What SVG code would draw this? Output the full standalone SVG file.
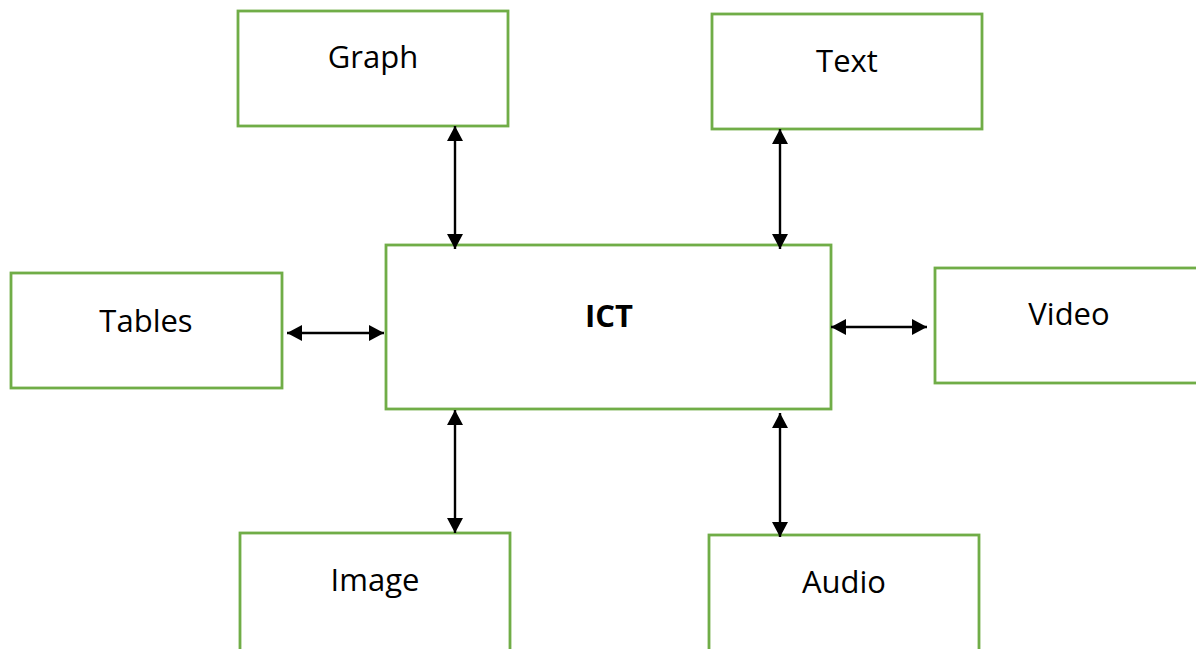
<svg xmlns="http://www.w3.org/2000/svg" width="1196" height="649" viewBox="0 0 1196 649">
<style>
.box{fill:#fff;stroke:#70AD47;stroke-width:2.8}
.lbl{font-family:"Open Sans","Liberation Sans",Arial,sans-serif;font-size:31px;fill:#000;text-anchor:middle}
.bold{font-weight:bold}
.conn{stroke:#000;stroke-width:2.4;fill:none;marker-start:url(#ah);marker-end:url(#ah)}
</style>
<defs>
<marker id="ah" markerUnits="userSpaceOnUse" markerWidth="16" markerHeight="16" refX="15" refY="8" orient="auto-start-reverse" viewBox="0 0 16 16">
<path d="M0,0 L15,8 L0,16 Z" fill="#000"/>
</marker>
</defs>
<rect width="1196" height="649" fill="#fff"/>
<g id="node-graph"><rect class="box" x="238" y="11" width="270" height="115"/><text class="lbl" x="373" y="68">Graph</text></g>
<g id="node-text"><rect class="box" x="712" y="14" width="270" height="115"/><text class="lbl" x="847" y="72">Text</text></g>
<g id="node-tables"><rect class="box" x="11" y="273" width="271" height="115"/><text class="lbl" x="146" y="332">Tables</text></g>
<g id="node-ict"><rect class="box" x="386" y="245" width="445" height="164"/><text class="lbl bold" x="609" y="327">ICT</text></g>
<g id="node-video"><rect class="box" x="935" y="268" width="275" height="115"/><text class="lbl" x="1069" y="325">Video</text></g>
<g id="node-image"><rect class="box" x="240" y="533" width="270" height="125"/><text class="lbl" x="375" y="591">Image</text></g>
<g id="node-audio"><rect class="box" x="709" y="535" width="270" height="125"/><text class="lbl" x="844" y="593">Audio</text></g>
<g id="connectors">
<line class="conn" x1="455" y1="126" x2="455" y2="249"/>
<line class="conn" x1="780" y1="129" x2="780" y2="249"/>
<line class="conn" x1="287" y1="333" x2="384" y2="333"/>
<line class="conn" x1="831" y1="327" x2="927" y2="327"/>
<line class="conn" x1="455" y1="410" x2="455" y2="533"/>
<line class="conn" x1="780" y1="413" x2="780" y2="537"/>
</g>
</svg>
